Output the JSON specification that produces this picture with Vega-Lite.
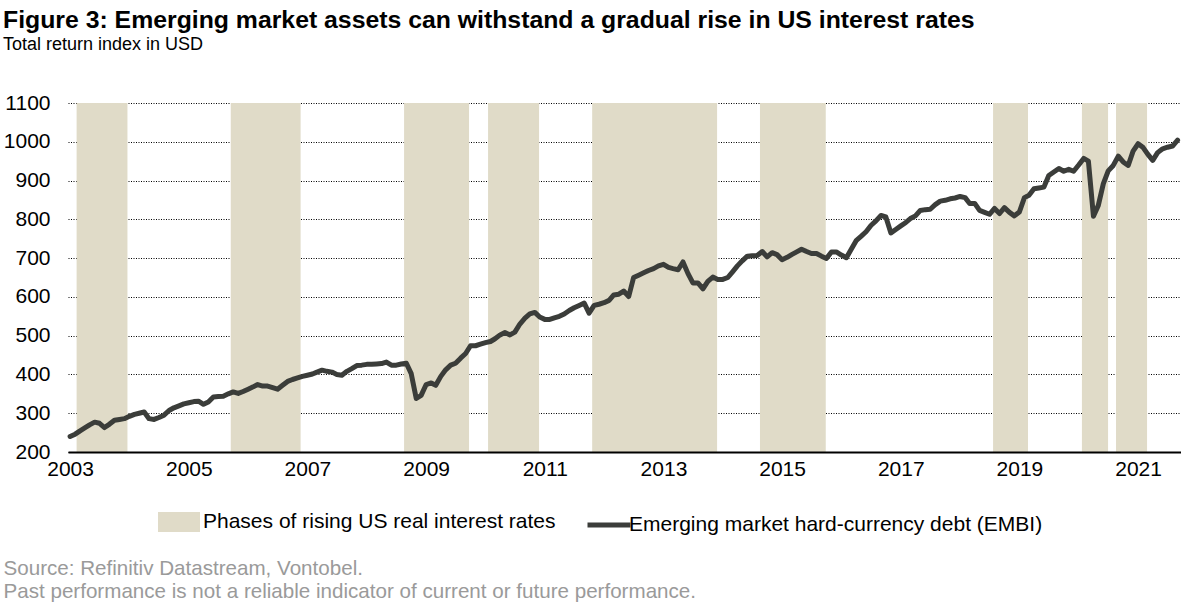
{
  "$schema": "https://vega.github.io/schema/vega-lite/v6.json",
  "width": 1113,
  "height": 349,
  "autosize": "none",
  "padding": {"left": 68, "top": 103, "right": 0, "bottom": 152},
  "background": "white",
  "title": {
    "text": "Figure 3: Emerging market assets can withstand a gradual rise in US interest rates",
    "subtitle": "Total return index in USD",
    "anchor": "start",
    "frame": "group",
    "dx": -65,
    "offset": 38,
    "font": "Liberation Sans",
    "fontSize": 24.8,
    "fontWeight": "bold",
    "color": "#000000",
    "subtitleFont": "Liberation Sans",
    "subtitleFontSize": 18,
    "subtitleColor": "#000000",
    "subtitlePadding": 3
  },
  "datasets": {
    "phases": [
      {"start": "2003-02-10", "end": "2003-12-20"},
      {"start": "2005-09-16", "end": "2006-11-20"},
      {"start": "2008-08-18", "end": "2009-09-22"},
      {"start": "2010-01-17", "end": "2010-11-27"},
      {"start": "2011-10-20", "end": "2013-11-27"},
      {"start": "2014-08-18", "end": "2015-09-27"},
      {"start": "2018-07-23", "end": "2019-02-23"},
      {"start": "2020-01-21", "end": "2020-06-30"},
      {"start": "2020-08-18", "end": "2021-02-25"}
    ],
    "embi": [
      {"date": "2003-01", "value": 240}, {"date": "2003-02", "value": 246}, {"date": "2003-03", "value": 254}, {"date": "2003-04", "value": 262},
      {"date": "2003-05", "value": 270}, {"date": "2003-06", "value": 277}, {"date": "2003-07", "value": 274}, {"date": "2003-08", "value": 263},
      {"date": "2003-09", "value": 272}, {"date": "2003-10", "value": 282}, {"date": "2003-11", "value": 284}, {"date": "2003-12", "value": 286},
      {"date": "2004-01", "value": 292}, {"date": "2004-02", "value": 297}, {"date": "2004-03", "value": 300}, {"date": "2004-04", "value": 303},
      {"date": "2004-05", "value": 286}, {"date": "2004-06", "value": 284}, {"date": "2004-07", "value": 289}, {"date": "2004-08", "value": 295},
      {"date": "2004-09", "value": 307}, {"date": "2004-10", "value": 314}, {"date": "2004-11", "value": 319}, {"date": "2004-12", "value": 324},
      {"date": "2005-01", "value": 327}, {"date": "2005-02", "value": 330}, {"date": "2005-03", "value": 331}, {"date": "2005-04", "value": 323},
      {"date": "2005-05", "value": 329}, {"date": "2005-06", "value": 342}, {"date": "2005-07", "value": 343}, {"date": "2005-08", "value": 344},
      {"date": "2005-09", "value": 350}, {"date": "2005-10", "value": 355}, {"date": "2005-11", "value": 351}, {"date": "2005-12", "value": 356},
      {"date": "2006-01", "value": 362}, {"date": "2006-02", "value": 368}, {"date": "2006-03", "value": 374}, {"date": "2006-04", "value": 370},
      {"date": "2006-05", "value": 370}, {"date": "2006-06", "value": 366}, {"date": "2006-07", "value": 362}, {"date": "2006-08", "value": 372},
      {"date": "2006-09", "value": 382}, {"date": "2006-10", "value": 387}, {"date": "2006-11", "value": 391}, {"date": "2006-12", "value": 395},
      {"date": "2007-01", "value": 398}, {"date": "2007-02", "value": 401}, {"date": "2007-03", "value": 406}, {"date": "2007-04", "value": 411},
      {"date": "2007-05", "value": 408}, {"date": "2007-06", "value": 406}, {"date": "2007-07", "value": 400}, {"date": "2007-08", "value": 398},
      {"date": "2007-09", "value": 408}, {"date": "2007-10", "value": 415}, {"date": "2007-11", "value": 423}, {"date": "2007-12", "value": 424},
      {"date": "2008-01", "value": 426}, {"date": "2008-02", "value": 426}, {"date": "2008-03", "value": 427}, {"date": "2008-04", "value": 428},
      {"date": "2008-05", "value": 432}, {"date": "2008-06", "value": 424}, {"date": "2008-07", "value": 424}, {"date": "2008-08", "value": 427},
      {"date": "2008-09", "value": 429}, {"date": "2008-10", "value": 402}, {"date": "2008-11", "value": 338}, {"date": "2008-12", "value": 346},
      {"date": "2009-01", "value": 374}, {"date": "2009-02", "value": 378}, {"date": "2009-03", "value": 372}, {"date": "2009-04", "value": 395},
      {"date": "2009-05", "value": 412}, {"date": "2009-06", "value": 424}, {"date": "2009-07", "value": 429}, {"date": "2009-08", "value": 442},
      {"date": "2009-09", "value": 454}, {"date": "2009-10", "value": 474}, {"date": "2009-11", "value": 474}, {"date": "2009-12", "value": 478},
      {"date": "2010-01", "value": 482}, {"date": "2010-02", "value": 485}, {"date": "2010-03", "value": 492}, {"date": "2010-04", "value": 502},
      {"date": "2010-05", "value": 508}, {"date": "2010-06", "value": 502}, {"date": "2010-07", "value": 509}, {"date": "2010-08", "value": 530},
      {"date": "2010-09", "value": 545}, {"date": "2010-10", "value": 556}, {"date": "2010-11", "value": 560}, {"date": "2010-12", "value": 548},
      {"date": "2011-01", "value": 542}, {"date": "2011-02", "value": 542}, {"date": "2011-03", "value": 546}, {"date": "2011-04", "value": 550},
      {"date": "2011-05", "value": 556}, {"date": "2011-06", "value": 565}, {"date": "2011-07", "value": 572}, {"date": "2011-08", "value": 578},
      {"date": "2011-09", "value": 584}, {"date": "2011-10", "value": 558}, {"date": "2011-11", "value": 578}, {"date": "2011-12", "value": 581},
      {"date": "2012-01", "value": 585}, {"date": "2012-02", "value": 591}, {"date": "2012-03", "value": 605}, {"date": "2012-04", "value": 607},
      {"date": "2012-05", "value": 615}, {"date": "2012-06", "value": 601}, {"date": "2012-07", "value": 650}, {"date": "2012-08", "value": 656},
      {"date": "2012-09", "value": 662}, {"date": "2012-10", "value": 668}, {"date": "2012-11", "value": 673}, {"date": "2012-12", "value": 680},
      {"date": "2013-01", "value": 684}, {"date": "2013-02", "value": 676}, {"date": "2013-03", "value": 673}, {"date": "2013-04", "value": 670},
      {"date": "2013-05", "value": 690}, {"date": "2013-06", "value": 660}, {"date": "2013-07", "value": 636}, {"date": "2013-08", "value": 636},
      {"date": "2013-09", "value": 621}, {"date": "2013-10", "value": 640}, {"date": "2013-11", "value": 651}, {"date": "2013-12", "value": 645},
      {"date": "2014-01", "value": 645}, {"date": "2014-02", "value": 650}, {"date": "2014-03", "value": 664}, {"date": "2014-04", "value": 680},
      {"date": "2014-05", "value": 693}, {"date": "2014-06", "value": 705}, {"date": "2014-07", "value": 706}, {"date": "2014-08", "value": 707},
      {"date": "2014-09", "value": 717}, {"date": "2014-10", "value": 703}, {"date": "2014-11", "value": 714}, {"date": "2014-12", "value": 709},
      {"date": "2015-01", "value": 696}, {"date": "2015-02", "value": 702}, {"date": "2015-03", "value": 709}, {"date": "2015-04", "value": 716},
      {"date": "2015-05", "value": 723}, {"date": "2015-06", "value": 717}, {"date": "2015-07", "value": 712}, {"date": "2015-08", "value": 712},
      {"date": "2015-09", "value": 705}, {"date": "2015-10", "value": 699}, {"date": "2015-11", "value": 716}, {"date": "2015-12", "value": 716},
      {"date": "2016-01", "value": 708}, {"date": "2016-02", "value": 701}, {"date": "2016-03", "value": 722}, {"date": "2016-04", "value": 745},
      {"date": "2016-05", "value": 756}, {"date": "2016-06", "value": 768}, {"date": "2016-07", "value": 784}, {"date": "2016-08", "value": 796},
      {"date": "2016-09", "value": 810}, {"date": "2016-10", "value": 806}, {"date": "2016-11", "value": 765}, {"date": "2016-12", "value": 774},
      {"date": "2017-01", "value": 783}, {"date": "2017-02", "value": 792}, {"date": "2017-03", "value": 802}, {"date": "2017-04", "value": 809},
      {"date": "2017-05", "value": 823}, {"date": "2017-06", "value": 825}, {"date": "2017-07", "value": 826}, {"date": "2017-08", "value": 838},
      {"date": "2017-09", "value": 847}, {"date": "2017-10", "value": 849}, {"date": "2017-11", "value": 853}, {"date": "2017-12", "value": 855},
      {"date": "2018-01", "value": 859}, {"date": "2018-02", "value": 856}, {"date": "2018-03", "value": 841}, {"date": "2018-04", "value": 841},
      {"date": "2018-05", "value": 823}, {"date": "2018-06", "value": 818}, {"date": "2018-07", "value": 813}, {"date": "2018-08", "value": 828},
      {"date": "2018-09", "value": 815}, {"date": "2018-10", "value": 830}, {"date": "2018-11", "value": 818}, {"date": "2018-12", "value": 809},
      {"date": "2019-01", "value": 819}, {"date": "2019-02", "value": 856}, {"date": "2019-03", "value": 862}, {"date": "2019-04", "value": 879},
      {"date": "2019-05", "value": 881}, {"date": "2019-06", "value": 883}, {"date": "2019-07", "value": 913}, {"date": "2019-08", "value": 922},
      {"date": "2019-09", "value": 931}, {"date": "2019-10", "value": 924}, {"date": "2019-11", "value": 929}, {"date": "2019-12", "value": 924},
      {"date": "2020-01", "value": 940}, {"date": "2020-02", "value": 957}, {"date": "2020-03", "value": 950}, {"date": "2020-04", "value": 808},
      {"date": "2020-05", "value": 836}, {"date": "2020-06", "value": 892}, {"date": "2020-07", "value": 925}, {"date": "2020-08", "value": 939},
      {"date": "2020-09", "value": 963}, {"date": "2020-10", "value": 948}, {"date": "2020-11", "value": 939}, {"date": "2020-12", "value": 976},
      {"date": "2021-01", "value": 995}, {"date": "2021-02", "value": 985}, {"date": "2021-03", "value": 968}, {"date": "2021-04", "value": 952},
      {"date": "2021-05", "value": 972}, {"date": "2021-06", "value": 982}, {"date": "2021-07", "value": 986}, {"date": "2021-08", "value": 989},
      {"date": "2021-09", "value": 1004}
    ]
  },
  "layer": [
    {
      "data": {"name": "phases"},
      "mark": {"type": "rect"},
      "encoding": {
        "x": {
          "field": "start",
          "type": "temporal",
          "scale": {
            "type": "utc",
            "domain": [
              {"year": 2002, "month": 12, "date": 19, "utc": true},
              {"year": 2021, "month": 9, "date": 22, "utc": true}
            ]
          },
          "axis": {
            "values": [
              {"year": 2003, "utc": true}, {"year": 2005, "utc": true}, {"year": 2007, "utc": true},
              {"year": 2009, "utc": true}, {"year": 2011, "utc": true}, {"year": 2013, "utc": true},
              {"year": 2015, "utc": true}, {"year": 2017, "utc": true}, {"year": 2019, "utc": true},
              {"year": 2021, "utc": true}
            ],
            "format": "%Y",
            "grid": false,
            "ticks": false,
            "domain": true,
            "domainColor": "#000000",
            "domainWidth": 2,
            "labelFont": "Liberation Sans",
            "labelFontSize": 21,
            "labelColor": "#000000",
            "labelPadding": 6,
            "labelFlush": false,
            "labelOverlap": false,
            "zindex": 1,
            "title": ["Source: Refinitiv Datastream, Vontobel.", "Past performance is not a reliable indicator of current or future performance."],
            "titleFont": "Liberation Sans",
            "titleFontSize": 20.6,
            "titleFontWeight": "normal",
            "titleColor": "#9a9a9a",
            "titleAlign": "left",
            "titleAnchor": "start",
            "titleBaseline": "alphabetic",
            "titleX": -65,
            "titleY": 122,
            "titleLineHeight": 23
          }
        },
        "x2": {"field": "end"},
        "fill": {
          "datum": "Phases of rising US real interest rates",
          "type": "nominal",
          "scale": {"range": ["#e0dbc8"]},
          "legend": {
            "title": null,
            "orient": "none",
            "legendX": 90,
            "legendY": 398,
            "padding": 0,
            "symbolType": "M-1,-0.476H1V0.476H-1Z",
            "symbolSize": 1764,
            "symbolStrokeWidth": 0,
            "labelFont": "Liberation Sans",
            "labelFontSize": 21,
            "labelColor": "#000000",
            "labelOffset": 3,
            "labelLimit": 600
          }
        }
      }
    },
    {
      "data": {"name": "embi"},
      "mark": {"type": "line", "strokeWidth": 5, "strokeJoin": "round", "strokeCap": "round"},
      "encoding": {
        "x": {"field": "date", "type": "temporal"},
        "y": {
          "field": "value",
          "type": "quantitative",
          "scale": {"domain": [200, 1100], "nice": false, "zero": false},
          "axis": {
            "values": [200, 300, 400, 500, 600, 700, 800, 900, 1000, 1100],
            "format": "d",
            "grid": true,
            "gridDash": [1, 1.5],
            "gridColor": "#000000",
            "gridWidth": 1,
            "domain": false,
            "ticks": false,
            "labelFont": "Liberation Sans",
            "labelFontSize": 21,
            "labelColor": "#000000",
            "labelPadding": 18,
            "title": null
          }
        },
        "stroke": {
          "datum": "Emerging market hard-currency debt (EMBI)",
          "type": "nominal",
          "scale": {"range": ["#3b3d3a"]},
          "legend": {
            "title": null,
            "orient": "none",
            "legendX": 517,
            "legendY": 398,
            "padding": 0,
            "symbolType": "stroke",
            "symbolSize": 1849,
            "symbolStrokeWidth": 5,
            "labelFont": "Liberation Sans",
            "labelFontSize": 21,
            "labelColor": "#000000",
            "labelOffset": -4,
            "labelLimit": 600
          }
        }
      }
    }
  ],
  "config": {
    "view": {"stroke": null},
    "font": "Liberation Sans"
  }
}
